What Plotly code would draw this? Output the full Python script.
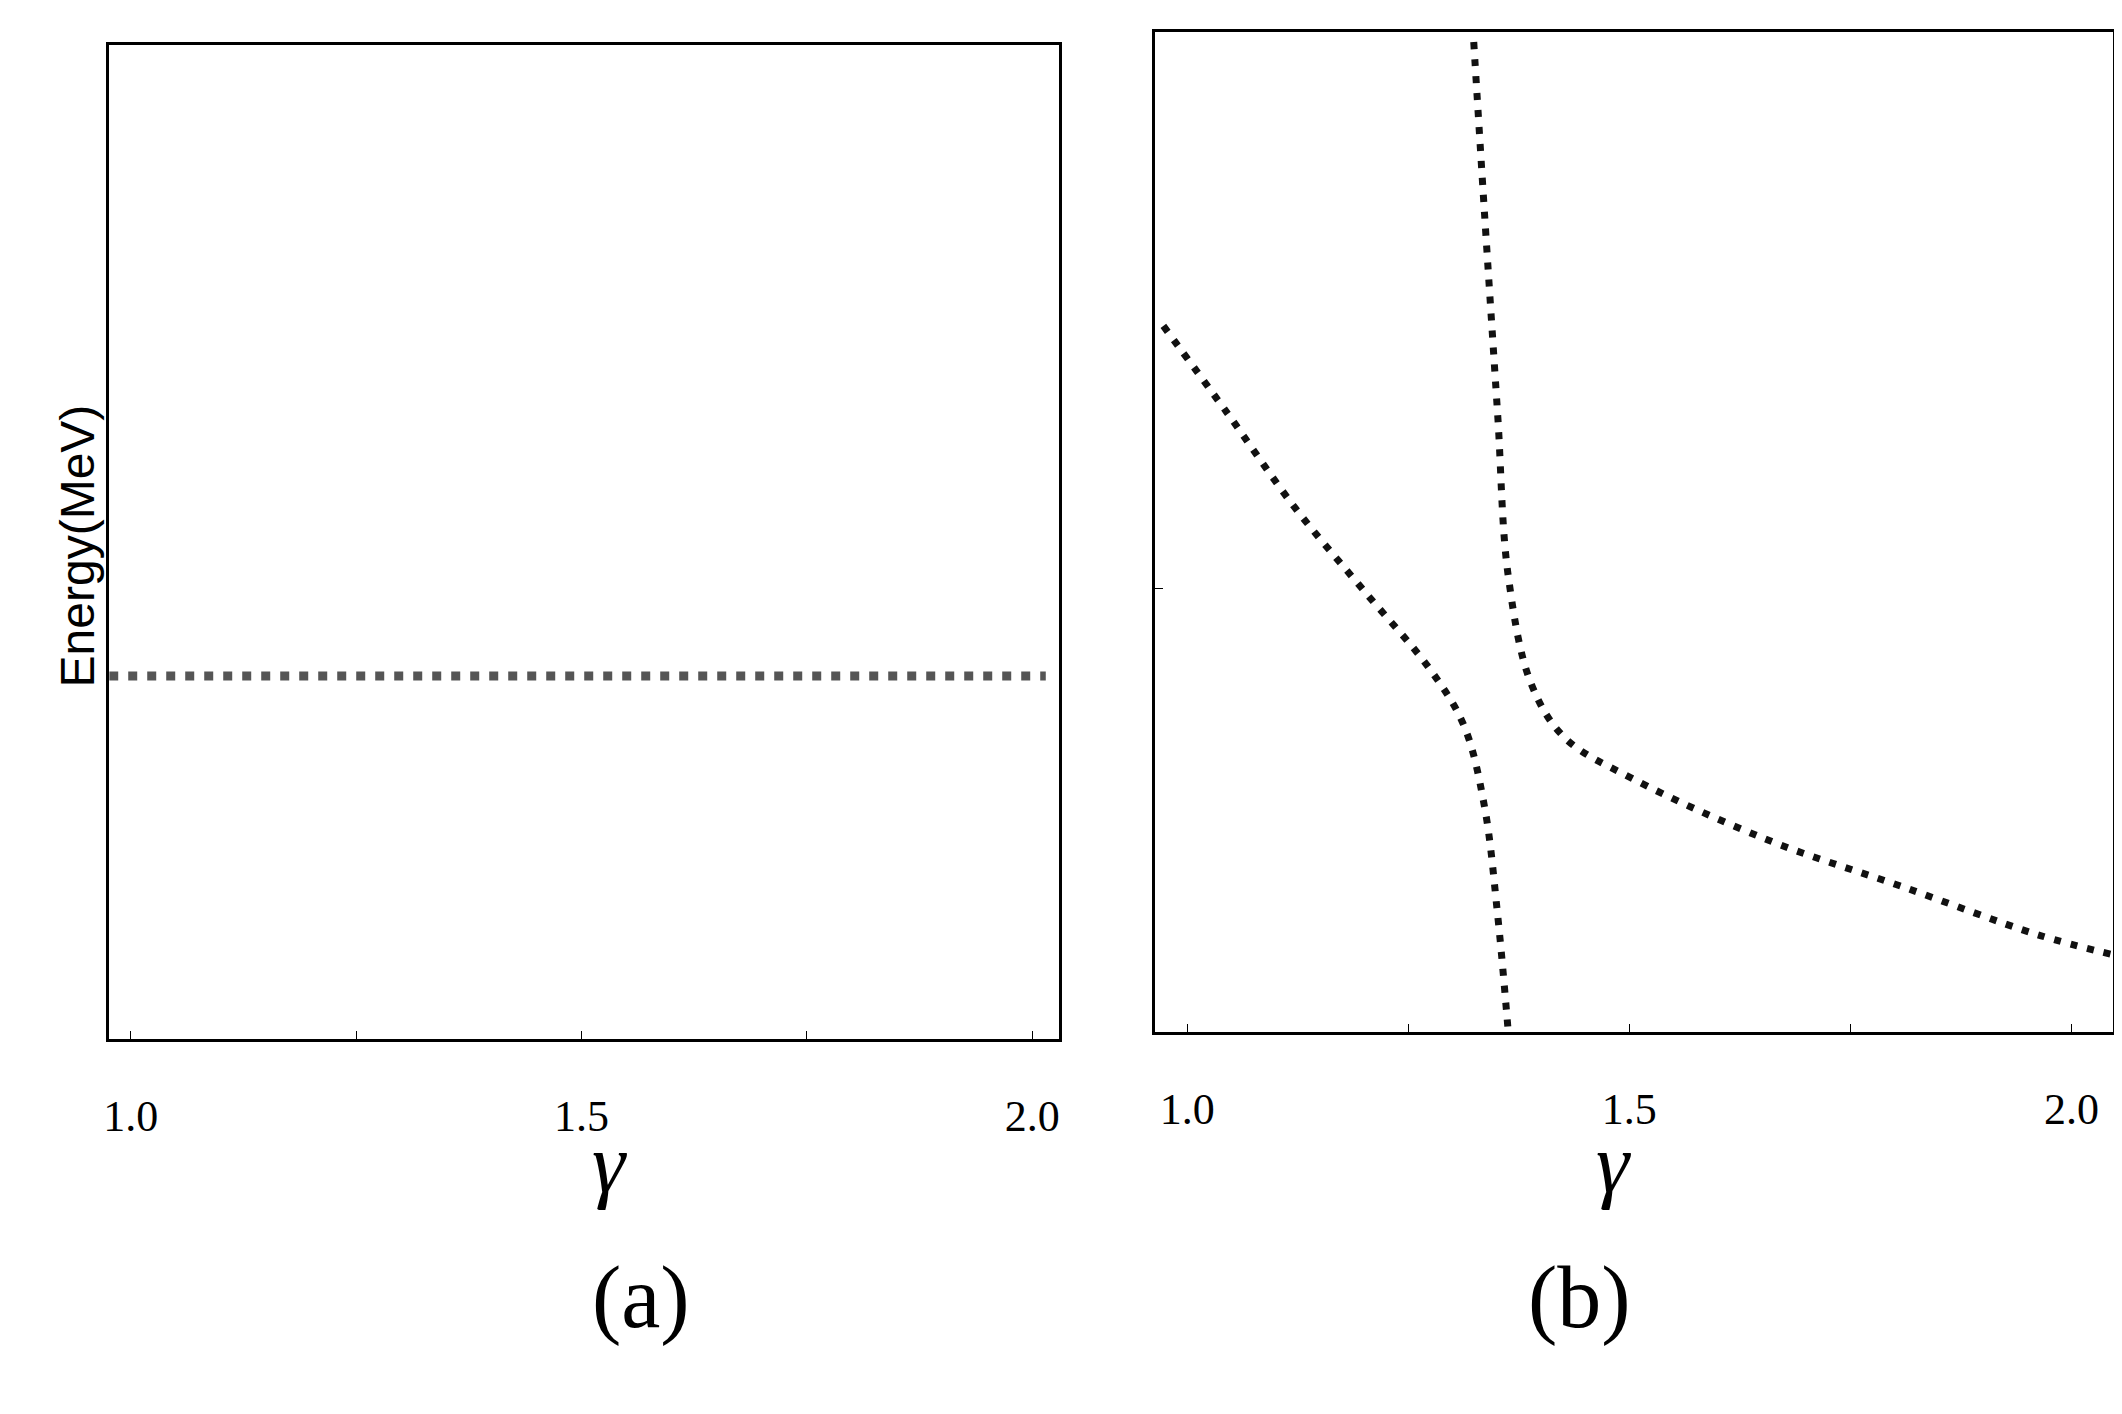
import plotly.graph_objects as go

xa = [0.976, 1.1, 1.25, 1.4, 1.55, 1.7, 1.85, 2.015]
ya = [0.365] * len(xa)

x1 = [0.973, 1.046, 1.122, 1.198, 1.275, 1.313, 1.336, 1.351, 1.363]
y1 = [0.706, 0.618, 0.524, 0.443, 0.362, 0.306, 0.226, 0.117, 0.0]
x2 = [1.324, 1.336, 1.351, 1.363, 1.389, 1.427, 1.504, 1.656, 1.809, 1.962, 2.047]
y2 = [0.99, 0.821, 0.618, 0.456, 0.348, 0.294, 0.253, 0.192, 0.145, 0.097, 0.077]

xticks = [1.0, 1.25, 1.5, 1.75, 2.0]
xticklabels = ["1.0", "", "1.5", "", "2.0"]

fig = go.Figure()
fig.add_trace(go.Scatter(x=xa, y=ya, mode="lines", xaxis="x", yaxis="y",
                         line=dict(color="#555555", width=9, dash="9px,10px")))
for xs, ys in [(x1, y1), (x2, y2)]:
    fig.add_trace(go.Scatter(x=xs, y=ys, mode="lines", xaxis="x2", yaxis="y2",
                             line=dict(color="#111111", width=7, dash="7px,10px", shape="spline")))

axfont = dict(family="Liberation Serif", size=44, color="black")
common = dict(showline=True, linecolor="black", linewidth=3, mirror=True,
              showgrid=False, zeroline=False, ticks="inside", ticklen=8,
              tickcolor="black", tickfont=axfont)
fig.update_layout(
    width=2122, height=1414, paper_bgcolor="white", plot_bgcolor="white",
    margin=dict(l=0, r=0, t=0, b=0), showlegend=False,
    xaxis=dict(domain=[0.045, 0.494], range=[0.976, 2.03], tickvals=xticks,
               ticktext=xticklabels, ticklabelstandoff=36, anchor="y", **common),
    yaxis=dict(domain=[0.271, 0.974], range=[0, 1], showticklabels=False,
               tickvals=[], anchor="x", **common),
    xaxis2=dict(domain=[0.539, 0.992], range=[0.963, 2.047], tickvals=xticks,
                ticktext=xticklabels, ticklabelstandoff=36, anchor="y2", **common),
    yaxis2=dict(domain=[0.276, 0.983], range=[0, 1], showticklabels=False,
                tickvals=[0.443], anchor="x2", **common),
)
ann = [
    dict(text="<i>γ</i>", x=0.272, y=1 - 1204 / 1414, size=84),
    dict(text="(a)", x=0.272, y=1 - 1340 / 1414, size=88),
    dict(text="<i>γ</i>", x=0.765, y=1 - 1204 / 1414, size=84),
    dict(text="(b)", x=0.765, y=1 - 1340 / 1414, size=88),
]
for a in ann:
    fig.add_annotation(text=a["text"], x=a["x"], y=a["y"], xref="paper", yref="paper",
                       showarrow=False, font=dict(family="Liberation Serif", size=a["size"], color="black"))
fig.add_annotation(text="Energy(MeV)", x=36 / 2122, y=1 - 538 / 1414, xref="paper", yref="paper",
                   showarrow=False, textangle=-90,
                   font=dict(family="Liberation Sans", size=48, color="black"))
fig.write_html("out.html")
